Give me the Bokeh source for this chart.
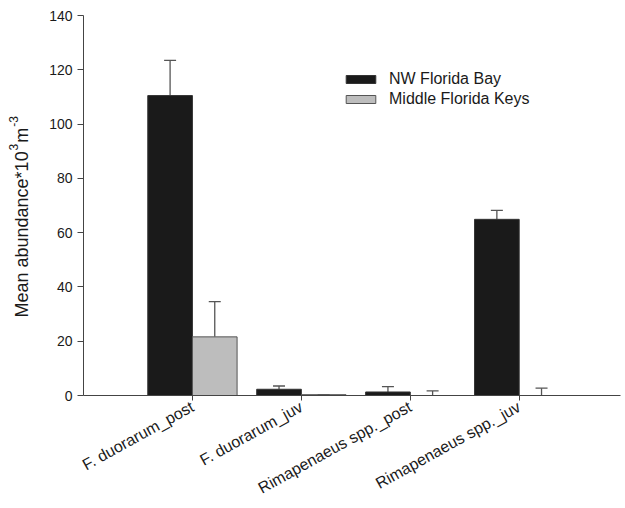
from bokeh.plotting import figure
from bokeh.layouts import row
from bokeh.models import FixedTicker, Range1d, Legend, LegendItem, Whisker, ColumnDataSource
from bokeh.core.properties import value
from bokeh.embed import file_html
from bokeh.resources import INLINE
import math

# Stages sampled and mean abundance (x10^3 per m^3) with standard errors
categories = ["F. duorarum_post", "F. duorarum_juv", "Rimapenaeus spp._post", "Rimapenaeus spp._juv"]
nw_bay_mean = [110.5, 2.3, 1.3, 64.9]
nw_bay_se = [13.0, 1.2, 2.0, 3.3]
keys_mean = [21.6, 0.3, 0.0, 0.0]
keys_se = [13.0, 0.0, 1.7, 2.7]

FONT = "Liberation Sans"

H = 508
TITLE_W = 45            # strip holding the rotated y-axis title
MAIN_W = 625 - TITLE_W
LEFT, RIGHT, TOP, BOTTOM = 38, 5, 15, 113
X_MAX, Y_MAX = 4.93, 140

p = figure(width=MAIN_W, height=H, output_backend="svg", toolbar_location=None,
           x_range=Range1d(0, X_MAX), y_range=Range1d(0, Y_MAX),
           min_border_left=LEFT, min_border_right=RIGHT, min_border_top=TOP, min_border_bottom=BOTTOM)
p.outline_line_color = None
p.xgrid.visible = False
p.ygrid.visible = False
p.background_fill_color = "white"

positions = list(range(1, len(categories) + 1))
bw = 0.41
nw_x = [x - bw / 2 for x in positions]
keys_x = [x + bw / 2 for x in positions]

nw_src = ColumnDataSource(dict(x=nw_x, top=nw_bay_mean,
                               upper=[m + s for m, s in zip(nw_bay_mean, nw_bay_se)]))
keys_src = ColumnDataSource(dict(x=keys_x, top=keys_mean,
                                 upper=[m + s for m, s in zip(keys_mean, keys_se)]))

# upper-only error bars drawn beneath the bars
for src in (nw_src, keys_src):
    w = Whisker(source=src, base="x", lower="top", upper="upper", dimension="height",
                line_color="#555555", line_width=1.3, level="underlay")
    w.upper_head.size = 12
    w.upper_head.line_color = "#555555"
    w.upper_head.line_width = 1.3
    w.lower_head = None
    p.add_layout(w)

r_nw = p.vbar(x="x", top="top", width=bw, source=nw_src, fill_color="#1a1a1a",
              line_color="#333333", line_width=1)
r_keys = p.vbar(x="x", top="top", width=bw, source=keys_src, fill_color="#bdbdbd",
                line_color="#555555", line_width=1)

# axes
p.xaxis.ticker = FixedTicker(ticks=positions)
p.xaxis.major_label_overrides = {x: c for x, c in zip(positions, categories)}
p.xaxis.major_label_orientation = math.radians(29)
p.xaxis.minor_tick_line_color = None
p.yaxis.ticker = FixedTicker(ticks=list(range(0, 141, 20)))
p.yaxis.minor_tick_line_color = None
for ax in (p.xaxis, p.yaxis):
    ax.axis_line_color = "#444444"
    ax.major_tick_line_color = "#444444"
    ax.major_label_text_font = FONT
    ax.major_label_text_color = "#1a1a1a"
p.yaxis.major_label_text_font_size = "14px"
p.xaxis.major_label_text_font_size = "16px"
p.xaxis.major_tick_out = 5
p.xaxis.major_tick_in = 0
p.yaxis.major_tick_out = 6
p.yaxis.major_tick_in = 0
p.yaxis.major_label_standoff = 5

legend = Legend(items=[LegendItem(label="NW Florida Bay", renderers=[r_nw]),
                       LegendItem(label="Middle Florida Keys", renderers=[r_keys])],
                location=(259, 287), glyph_width=37, glyph_height=10, label_height=10,
                label_standoff=10, spacing=2, padding=0, margin=0,
                border_line_color=None, background_fill_alpha=0,
                label_text_font=FONT, label_text_font_size="16px", label_text_color="#1a1a1a")
p.add_layout(legend)

# y-axis title with raised exponents, drawn as rotated text pieces in a narrow strip.
# The strip shares the main plot's top/bottom borders, and its y range is set so that
# one data unit is one pixel measured up from the bottom edge.
t = figure(width=TITLE_W, height=H, output_backend="svg", toolbar_location=None,
           x_range=Range1d(0, TITLE_W), y_range=Range1d(BOTTOM, H - TOP),
           x_axis_type=None, y_axis_type=None,
           min_border_left=0, min_border_right=0, min_border_top=TOP, min_border_bottom=BOTTOM)
t.outline_line_color = None

# advance widths (em) of Liberation Sans glyphs used in the title
ADV = {"M": .833, "e": .556, "a": .556, "n": .556, " ": .278, "b": .556, "u": .556,
       "d": .556, "c": .5, "*": .389, "1": .556, "0": .556, "3": .556, "m": .833, "-": .333}


def text_len(s, size):
    return sum(ADV[ch] for ch in s) * size


BASE, SUP, RAISE = 18, 12, 8
pieces = [("Mean abundance*10", BASE, 0), ("3", SUP, RAISE), ("m", BASE, 0), ("-3", SUP, RAISE)]
anchor_x = 21
pos = H - 317           # where "M" starts, measured up from the bottom
for txt, size, raise_px in pieces:
    t.text(x=[anchor_x - raise_px], y=[pos], text=[txt], angle=math.pi / 2,
           text_font=value(FONT), text_font_size=f"{size}px", text_color="#1a1a1a",
           text_align="left", text_baseline="alphabetic")
    pos += text_len(txt, size) + 1

open("out.html", "w").write(file_html(row(t, p), INLINE))
